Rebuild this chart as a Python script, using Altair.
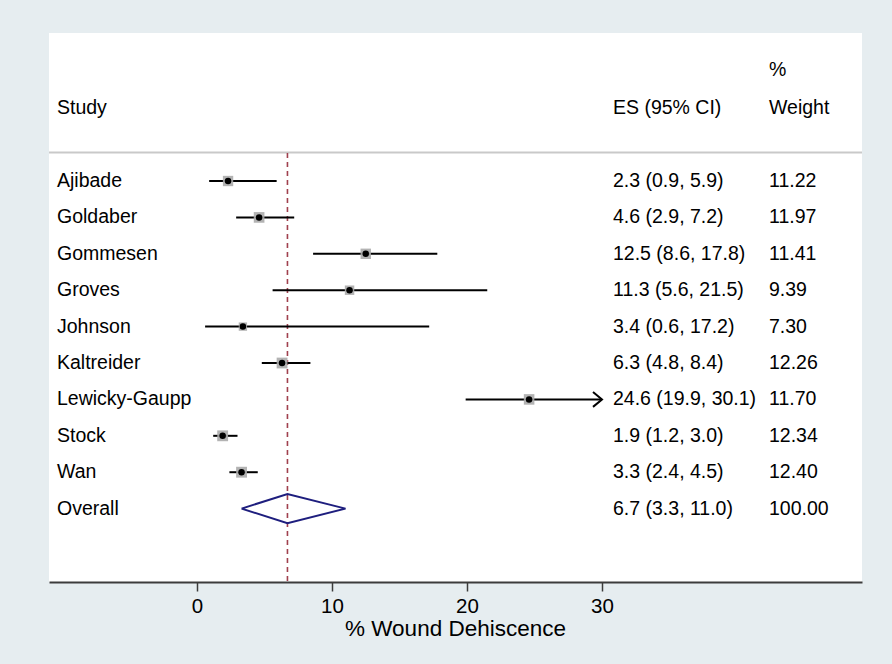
import altair as alt
import pandas as pd

studies = ["Ajibade", "Goldaber", "Gommesen", "Groves", "Johnson",
           "Kaltreider", "Lewicky-Gaupp", "Stock", "Wan"]
es = [2.3, 4.6, 12.5, 11.3, 3.4, 6.3, 24.6, 1.9, 3.3]
lo = [0.9, 2.9, 8.6, 5.6, 0.6, 4.8, 19.9, 1.2, 2.4]
hi = [5.9, 7.2, 17.8, 21.5, 17.2, 8.4, 30.1, 3.0, 4.5]
weight = [11.22, 11.97, 11.41, 9.39, 7.30, 12.26, 11.70, 12.34, 12.40]

overall_label = "Overall"
overall_es = 6.7
overall_lo = 3.3
overall_hi = 11.0
overall_weight = 100.00

x_ticks = [0, 10, 20, 30]
x_max = 30

FONT = "Liberation Sans"
FS = 19.5

df = pd.DataFrame({
    "study": studies, "es": es, "lo": lo, "hi": hi, "weight": weight,
})
df["row"] = range(1, len(df) + 1)
df["hi_clip"] = df["hi"].clip(upper=x_max)
df["ci_text"] = [f"{e:.1f} ({l:.1f}, {h:.1f})" for e, l, h in zip(es, lo, hi)]
df["w_text"] = [f"{w:.2f}" for w in weight]

orow = len(df) + 1
ov = pd.DataFrame({
    "study": [overall_label], "row": [orow],
    "ci_text": [f"{overall_es:.1f} ({overall_lo:.1f}, {overall_hi:.1f})"],
    "w_text": [f"{overall_weight:.2f}"],
})
labels = pd.concat([df[["study", "row", "ci_text", "w_text"]], ov], ignore_index=True)

half = 0.4
diamond = pd.DataFrame({
    "x": [overall_lo, overall_es, overall_hi, overall_es, overall_lo],
    "row": [orow, orow - half, orow, orow + half, orow],
    "o": [0, 1, 2, 3, 4],
})

xs = alt.Scale(domain=[-10.963, 49.259], nice=False, zero=False)
ys = alt.Scale(domain=[-3.066, 12.016], reverse=True, nice=False, zero=False)

x_axis = alt.Axis(values=x_ticks, title="% Wound Dehiscence", grid=False,
                  titleX=406, titleY=53, titleBaseline="alphabetic",
                  labelPadding=5)

base = alt.Chart(df)

ci = base.mark_rule(color="black", strokeWidth=2).encode(
    x=alt.X("lo:Q", scale=xs, axis=x_axis),
    x2="hi_clip:Q",
    y=alt.Y("row:Q", scale=ys, axis=None),
)

squares = base.mark_square(filled=True, color="#ababab", opacity=0.9).encode(
    x=alt.X("es:Q", scale=xs),
    y=alt.Y("row:Q", scale=ys),
    size=alt.Size("weight:Q", scale=alt.Scale(domain=[0, 12.4], range=[0, 118]), legend=None),
)

dots = base.mark_circle(color="black", size=42, opacity=1).encode(
    x=alt.X("es:Q", scale=xs),
    y=alt.Y("row:Q", scale=ys),
)

arrows = base.transform_filter(alt.datum.hi > x_max).mark_point(
    shape="M-1,-0.83L0,0L-1,0.83", size=324, filled=False,
    color="black", strokeWidth=2, opacity=1,
).encode(
    x=alt.X("hi_clip:Q", scale=xs),
    y=alt.Y("row:Q", scale=ys),
)

dia = alt.Chart(diamond).mark_line(color="#1e1e7e", strokeWidth=2).encode(
    x=alt.X("x:Q", scale=xs),
    y=alt.Y("row:Q", scale=ys),
    order="o:Q",
)

refline = alt.Chart(pd.DataFrame({"v": [overall_es]})).mark_rule(
    color="#a0404e", strokeWidth=1.6, strokeDash=[5, 4]
).encode(
    x=alt.X("v:Q", scale=xs),
    y=alt.value(120),
    y2=alt.value(549),
)

sep = alt.Chart(pd.DataFrame({"a": [0]})).mark_rule(
    color="#c9c9c9", strokeWidth=2
).encode(
    x=alt.value(0), x2=alt.value(813), y=alt.value(119.5),
)

tbase = alt.Chart(labels)
t_study = tbase.mark_text(align="left", baseline="middle", font=FONT, fontSize=FS, color="black").encode(
    x=alt.value(8), y=alt.Y("row:Q", scale=ys), text="study:N")
t_ci = tbase.mark_text(align="left", baseline="middle", font=FONT, fontSize=FS, color="black").encode(
    x=alt.value(564), y=alt.Y("row:Q", scale=ys), text="ci_text:N")
t_w = tbase.mark_text(align="left", baseline="middle", font=FONT, fontSize=FS, color="black").encode(
    x=alt.value(720), y=alt.Y("row:Q", scale=ys), text="w_text:N")

headers = pd.DataFrame({
    "txt": ["%", "Study", "ES (95% CI)", "Weight"],
    "px": [720, 8, 564, 720],
    "py": [37, 75, 75, 75],
})
t_head = alt.Chart(headers).mark_text(align="left", baseline="middle", font=FONT, fontSize=FS, color="black").encode(
    x=alt.X("px:Q", scale=None), y=alt.Y("py:Q", scale=None), text="txt:N")

chart = alt.layer(
    sep, refline, ci, squares, dots, arrows, dia, t_study, t_ci, t_w, t_head
).properties(
    width=813, height=549,
    background="#e6edf0",
    padding={"left": 49, "top": 33, "right": 30, "bottom": 82},
    autosize=alt.AutoSizeParams(type="none"),
).configure_view(
    fill="white", stroke="white", strokeWidth=0,
).configure_axis(
    labelFont=FONT, titleFont=FONT, labelFontSize=20.5, titleFontSize=22.5,
    labelColor="black", titleColor="black", titleFontWeight="normal",
    domainColor="#3c3c3c", domainWidth=2, tickColor="#3c3c3c",
    tickWidth=1.5, tickSize=9,
)

chart.save("out.html", embed_options={"renderer": "svg", "actions": False})
